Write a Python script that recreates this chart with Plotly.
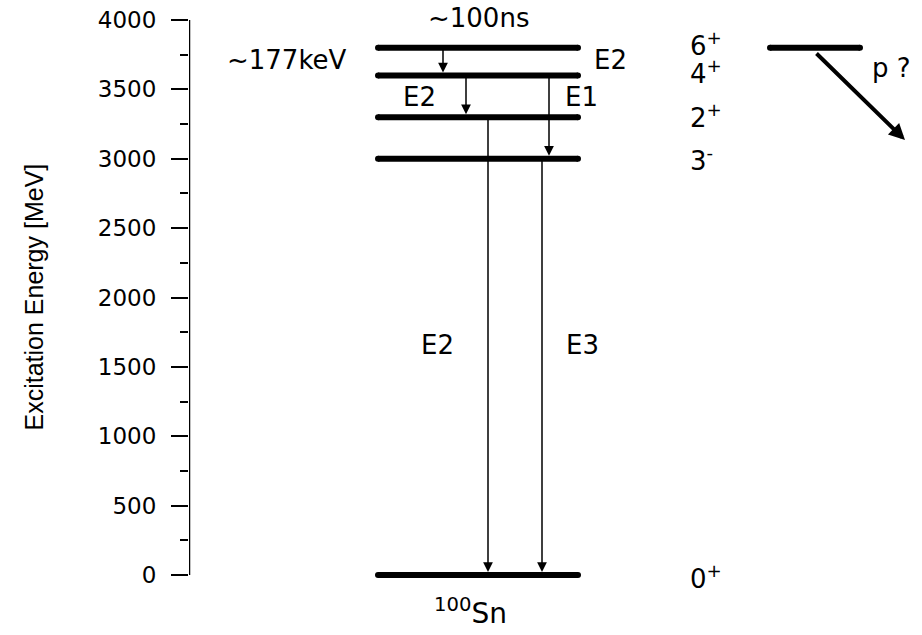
import plotly.graph_objects as go

# ---- data ----
level_energies = [3800, 3600, 3300, 3000, 0]          # keV, main level scheme
level_x = [189, 389]                                   # horizontal extent of main levels
side_level_energy = 3800
side_level_x = [581, 671]

# transitions: (x position, from energy, to energy)
trans_x = [254, 277, 360, 299, 353]
trans_from = [3800, 3600, 3600, 3300, 3000]
trans_to = [3600, 3300, 3000, 0, 0]

proton_from = (626, 3769)
proton_to = (716, 3135)

spin_labels = ["6<sup>+</sup>", "4<sup>+</sup>", "2<sup>+</sup>", "3<sup>-</sup>", "0<sup>+</sup>"]
spin_y = [3830, 3625, 3305, 2995, -15]
spin_x = 499

mult_labels = ["E2", "E2", "E1", "E2", "E3"]
mult_x = [421, 230, 392, 248, 393]
mult_y = [3712, 3445, 3445, 1660, 1660]

y_ticks = [0, 500, 1000, 1500, 2000, 2500, 3000, 3500, 4000]
y_minor = [250, 750, 1250, 1750, 2250, 2750, 3250, 3750]

Y_MIN, Y_MAX = -216.216, 4000

FONT = "DejaVu Sans, Liberation Sans, Arial, sans-serif"
TXT = 26

fig = go.Figure()

# levels
xs, ys = [], []
for e in level_energies:
    xs += [level_x[0], level_x[1], None]
    ys += [e, e, None]
xs += [side_level_x[0], side_level_x[1], None]
ys += [side_level_energy, side_level_energy, None]
fig.add_trace(go.Scatter(x=xs, y=ys, mode="lines+markers",
                         line=dict(color="black", width=6),
                         marker=dict(color="black", size=6),
                         hoverinfo="skip", showlegend=False, cliponaxis=False))

def py(e):
    """energy -> paper fraction"""
    return (e - Y_MIN) / (Y_MAX - Y_MIN)

ann = []
# gamma transitions
for x, e0, e1 in zip(trans_x, trans_from, trans_to):
    ann.append(dict(x=x, y=e1, ax=x, ay=e0, xref="x", yref="y", axref="x", ayref="y",
                    text="", showarrow=True, arrowhead=2, arrowsize=1.3, arrowwidth=1.5,
                    arrowcolor="black", standoff=3))
# proton arrow
ann.append(dict(x=proton_to[0], y=proton_to[1], ax=proton_from[0], ay=proton_from[1],
                xref="x", yref="y", axref="x", ayref="y", text="", showarrow=True,
                arrowhead=2, arrowsize=0.8, arrowwidth=4, arrowcolor="black"))

# multipolarity labels
for t, x, y in zip(mult_labels, mult_x, mult_y):
    ann.append(dict(x=x, y=y, xref="x", yref="y", text=t, showarrow=False,
                    xanchor="center", yanchor="middle",
                    font=dict(family=FONT, size=TXT, color="black")))
# spin labels
for t, y in zip(spin_labels, spin_y):
    ann.append(dict(x=spin_x, y=py(y), xref="x", yref="paper", text=t, showarrow=False,
                    xanchor="left", yanchor="middle",
                    font=dict(family=FONT, size=TXT, color="black")))
# others
ann.append(dict(x=289, y=py(4012), xref="x", yref="paper", text="~100ns", showarrow=False,
                xanchor="center", yanchor="middle",
                font=dict(family=FONT, size=TXT, color="black")))
ann.append(dict(x=98, y=3712, xref="x", yref="y", text="~177keV", showarrow=False,
                xanchor="center", yanchor="middle",
                font=dict(family=FONT, size=TXT, color="black")))
ann.append(dict(x=702, y=3654, xref="x", yref="y", text="p ?", showarrow=False,
                xanchor="center", yanchor="middle",
                font=dict(family=FONT, size=TXT, color="black")))
ann.append(dict(x=281, y=py(-262), xref="x", yref="paper", text="<sup>100</sup>Sn", showarrow=False,
                xanchor="center", yanchor="middle",
                font=dict(family=FONT, size=28, color="black")))
# axis title
ann.append(dict(x=-0.2128, y=py(2000), xref="paper", yref="paper", text="Excitation Energy [MeV]",
                textangle=-90, showarrow=False, xanchor="center", yanchor="middle",
                font=dict(family="Liberation Sans, Arial, sans-serif", size=25, color="black")))

# axis line from 0 to 4000
shapes = [dict(type="line", xref="x", yref="y", x0=0, x1=0, y0=0, y1=4000,
               line=dict(color="black", width=2.5))]

fig.update_layout(
    width=922, height=635,
    margin=dict(l=189, r=0, t=20, b=30),
    paper_bgcolor="white", plot_bgcolor="white",
    annotations=ann, shapes=shapes,
    xaxis=dict(range=[0, 733], visible=False, fixedrange=True),
    yaxis=dict(range=[Y_MIN, Y_MAX], showgrid=False, zeroline=False,
               showline=False,
               ticks="outside", ticklen=17, tickwidth=2, tickcolor="black",
               tickvals=y_ticks, ticklabelstandoff=10,
               tickfont=dict(family=FONT, size=23, color="black"),
               minor=dict(ticks="outside", ticklen=8, tickwidth=2, tickcolor="black",
                          tickvals=y_minor)),
    showlegend=False,
)

fig.write_html("out.html")
